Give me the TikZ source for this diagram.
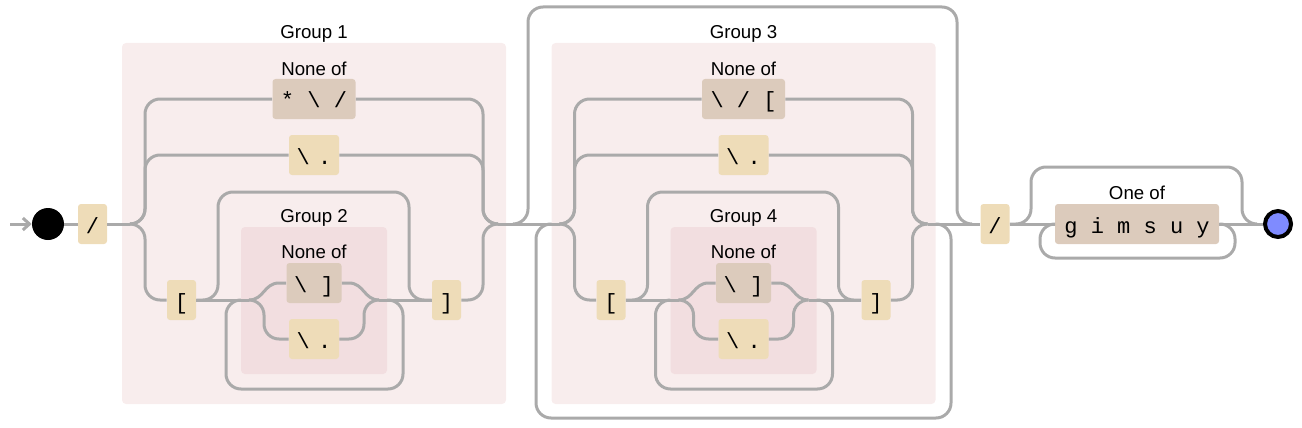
\documentclass[tikz,border=0pt]{standalone}
\usepackage{fontspec}
\setmainfont{Liberation Sans}
\newfontfamily\liberationmono{Liberation Mono}
\usetikzlibrary{arrows.meta}
\pgfdeclarelayer{bg}
\pgfsetlayers{bg,main}
\definecolor{ln}{HTML}{AAAAAA}
\definecolor{litc}{HTML}{EEDCB8}
\definecolor{chsc}{HTML}{DCCBBC}
\definecolor{grpbg}{HTML}{F8EDED}
\definecolor{grpin}{HTML}{F2DEE0}
\definecolor{endc}{HTML}{7F8BFF}
\tikzset{
  rail/.style={draw=ln, line width=2.25pt},
  rr/.style={rail, rounded corners=11.25pt},
  railbox/.style={rounded corners=2.25pt, inner sep=0pt, minimum height=30pt,
    text height=13.5pt, text depth=0pt,
    font={\liberationmono\fontsize{16.5pt}{18pt}\selectfont}},
  lit/.style={railbox, fill=litc},
  chs/.style={railbox, fill=chsc},
  lbl/.style={anchor=base, inner sep=0pt, font={\fontsize{14pt}{16pt}\selectfont}},
  bgrect/.style={rounded corners=3pt},
}
\newcommand\dotlit{\textbackslash\hspace{0.37em}.}
% #1 shift, #2 prefix, #3 outer label, #4 inner label, #5 top charset text
\newcommand\railgroup[5]{%
\begin{scope}[shift={(#1,0)}, name prefix=#2-]
  \begin{pgfonlayer}{bg}
    \fill[grpbg, bgrect] (122,43) rectangle (506,404);
    \fill[grpin, bgrect] (241,227) rectangle (387,374);
  \end{pgfonlayer}
  \node[lbl] (glab) at (314,39) {#3};
  \node[lbl] (nlab) at (314,75) {None of};
  \node[chs, minimum width=62.25pt] (top) at (314,99) {#5};
  \node[lit, minimum width=37.5pt] (dot) at (314,155) {\dotlit};
  \node[lit, minimum width=21.75pt] (lb) at (181.5,300) {[};
  \node[lit, minimum width=21.75pt] (rb) at (446.5,300) {]};
  \node[lbl] (ilab) at (314,222) {#4};
  \node[lbl] (inlab) at (314,258) {None of};
  \node[chs, minimum width=41.25pt] (itop) at (314,283) {\textbackslash\ ]};
  \node[lit, minimum width=37.5pt] (idot) at (314,339) {\dotlit};
  % outer alternation, left
  \draw[rr] (130,224) -- (145,224) |- (top.west);
  \draw[rr] (130,224) -- (145,224) |- (dot.west);
  \draw[rr] (130,224) -- (145,224) |- (lb.west);
  % outer alternation, right
  \draw[rr] (top.east) -| (483,224) -- (498,224);
  \draw[rr] (dot.east) -| (483,224) -- (498,224);
  \draw[rr] (rb.east) -| (483,224) -- (498,224);
  % third branch
  \draw[rail] (lb.east) -- (249,300);
  \draw[rail] (379,300) -- (rb.west);
  \draw[rr] (lb.east) -| (218,192) -| (409,300) -- (rb.west);
  \draw[rr] (387,300) -| (403,389) -| (226,300) -- (241,300);
  % inner alternation
  \draw[rail] (249,300) .. controls (264,300) and (264,283) .. (279,283) -- (itop.west);
  \draw[rr] (249,300) -- (264,300) |- (idot.west);
  \draw[rail] (itop.east) -- (349,283) .. controls (364,283) and (364,300) .. (379,300);
  \draw[rr] (idot.east) -| (364,300) -- (379,300);
\end{scope}}
\begin{document}
\begin{tikzpicture}[x=0.75pt, y=-0.75pt]
  \useasboundingbox (0,0) rectangle (1302,428);
  \node[circle, fill=black, inner sep=0pt, minimum size=24pt] (start) at (48,224) {};
  \coordinate (tail) at (10,224);
  \draw[rail, -{Straight Barb[length=5pt, width=9pt]}] (tail) -- (start.west);
  \node[lit, minimum width=21.75pt] (s1) at (92.5,224) {/};
  \draw[rail] (start.east) -- (s1.west);
  \draw[rail] (s1.east) -- (130,224);
  \railgroup{0}{g1}{Group 1}{Group 2}{*\ \textbackslash\ /}
  \railgroup{429.5}{g3}{Group 3}{Group 4}{\textbackslash\ /\ [}
  \node[lit, minimum width=21.75pt] (s2) at (995,224) {/};
  \node[chs, minimum width=123pt] (flags) at (1137,224) {g i m s u y};
  \node[lbl] (onelab) at (1137,199) {One of};
  \node[circle, draw=black, fill=endc, line width=3pt, inner sep=0pt, minimum size=19.5pt] (fin) at (1278,224) {};
  % between group 1 and group 3
  \draw[rail] (498,224) -- (559.5,224);
  \draw[rr] (513,224) -| (528,7) -| (957,224) -- (972,224);
  \draw[rr] (935.5,224) -| (951,418) -| (536,224) -- (551.5,224);
  \draw[rail] (927.5,224) -- (s2.west);
  % flags
  \draw[rail] (s2.east) -- (flags.west);
  \draw[rr] (s2.east) -| (1031,167) -| (1242,224) -- (1257,224);
  \draw[rr] (flags.east) -| (1235,258) -| (1040,224) -- (flags.west);
  \draw[rail] (flags.east) -- (fin.west);
\end{tikzpicture}
\end{document}
